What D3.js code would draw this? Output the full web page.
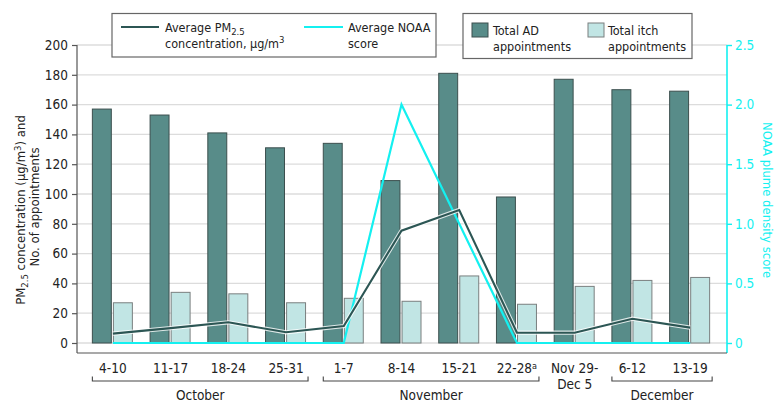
<!DOCTYPE html>
<html>
<head>
<meta charset="utf-8">
<script src="https://cdn.jsdelivr.net/npm/d3@7"></script>
<style>
  html, body { margin: 0; padding: 0; background: #fff; }
  svg { display: block; font-family: "DejaVu Sans Condensed", "DejaVu Sans", sans-serif; }
</style>
</head>
<body>
<svg id="chart" width="780" height="413"></svg>
<script>
// ---- data ----
const categories = ["4-10", "11-17", "18-24", "25-31", "1-7", "8-14", "15-21", "22-28", "Nov 29-|Dec 5", "6-12", "13-19"];
const totalAD = [157, 153, 141, 131, 134, 109, 181, 98, 177, 170, 169];
const totalItch = [27, 34, 33, 27, 30, 28, 45, 26, 38, 42, 44];
const avgPM25 = [6.3, 10, 13.9, 7.2, 11.4, 75.4, 89.3, 6.9, 6.9, 16.3, 10.3];
const avgNOAA = [0, 0, 0, 0, 0, 2.0, 1.0, 0, 0, 0, 0];
const leftTicks = [0, 20, 40, 60, 80, 100, 120, 140, 160, 180, 200];
const rightTicks = [0, 0.5, 1.0, 1.5, 2.0, 2.5];
const months = [
  { name: "October", from: 0, to: 3 },
  { name: "November", from: 4, to: 7 },
  { name: "December", from: 9, to: 10 }
];

// ---- layout ----
const svg = d3.select("#chart");
const axL = 77, axR = 727, yTop = 45, yZero = 343, yAxisBottom = 353;
const COL_AD = "#588c89", COL_AD_STROKE = "#3c4f4e";
const COL_ITCH = "#c1e5e4", COL_ITCH_STROKE = "#7a7f7f";
const COL_PM = "#2c5654", COL_NOAA = "#14f0f0";

const x = d3.scaleBand().domain(categories).range([84, 719]).paddingInner(0).paddingOuter(0);
const xc = d => x(d) + x.bandwidth() / 2;
const x1 = d3.scaleBand().domain(["ad", "itch"]).range([0, 40]).paddingInner(0.1);
const yL = d3.scaleLinear().domain([0, 200]).range([yZero, yTop]);
const yR = d3.scaleLinear().domain([0, 2.5]).range([yZero, yTop]);

// gridlines
svg.append("g").selectAll("line").data(leftTicks).join("line")
  .attr("x1", axL).attr("x2", axR)
  .attr("y1", d => yL(d)).attr("y2", d => yL(d))
  .attr("stroke", "#dcdcdc").attr("stroke-width", 1.3);

// bars
const groups = svg.append("g").selectAll("g").data(categories).join("g")
  .attr("transform", d => `translate(${xc(d) - 20.5},0)`);
groups.append("rect")
  .attr("x", x1("ad")).attr("width", x1.bandwidth())
  .attr("y", (d, i) => yL(totalAD[i])).attr("height", (d, i) => yL(0) - yL(totalAD[i]))
  .attr("fill", COL_AD).attr("stroke", COL_AD_STROKE).attr("stroke-width", 1);
groups.append("rect")
  .attr("x", x1("itch")).attr("width", x1.bandwidth())
  .attr("y", (d, i) => yL(totalItch[i])).attr("height", (d, i) => yL(0) - yL(totalItch[i]))
  .attr("fill", COL_ITCH).attr("stroke", COL_ITCH_STROKE).attr("stroke-width", 1);

// lines
const noaaLine = d3.line().x((d, i) => xc(categories[i])).y(d => yR(d));
svg.append("path").datum(avgNOAA).attr("d", noaaLine)
  .attr("fill", "none").attr("stroke", COL_NOAA).attr("stroke-width", 2.2).attr("stroke-linejoin", "miter");
const pmLine = d3.line().x((d, i) => xc(categories[i])).y(d => yL(d));
svg.append("path").datum(avgPM25).attr("d", pmLine)
  .attr("fill", "none").attr("stroke", "#fff").attr("stroke-width", 4.2).attr("opacity", 0.8);
svg.append("path").datum(avgPM25).attr("d", pmLine)
  .attr("fill", "none").attr("stroke", COL_PM).attr("stroke-width", 2.1);

// left axis
const leftAxis = d3.axisLeft(yL).tickValues(leftTicks).tickSize(5).tickSizeOuter(0).tickPadding(4);
const gL = svg.append("g").attr("transform", `translate(${axL},0)`).call(leftAxis);
gL.select(".domain").remove();
gL.append("line").attr("x1", 0).attr("x2", 0).attr("y1", yTop).attr("y2", yAxisBottom).attr("stroke", "#555").attr("stroke-width", 1.2);
gL.selectAll(".tick line").attr("stroke", "#555").attr("stroke-width", 1.2);
gL.selectAll(".tick text").attr("font-size", 13.5).attr("fill", "#222")
  .attr("font-family", "'DejaVu Sans Condensed', 'DejaVu Sans', sans-serif");

// right axis
const rightAxis = d3.axisRight(yR).tickValues(rightTicks).tickSize(5).tickSizeOuter(0).tickPadding(3)
  .tickFormat(d => d === 0 ? "0" : d3.format(".1f")(d));
const gR = svg.append("g").attr("transform", `translate(${axR},0)`).call(rightAxis);
gR.select(".domain").remove();
gR.append("line").attr("x1", 0).attr("x2", 0).attr("y1", yTop).attr("y2", yAxisBottom).attr("stroke", COL_NOAA).attr("stroke-width", 1.6);
gR.selectAll(".tick line").attr("stroke", COL_NOAA).attr("stroke-width", 1.4);
gR.selectAll(".tick text").attr("font-size", 13.5).attr("fill", COL_NOAA)
  .attr("font-family", "'DejaVu Sans Condensed', 'DejaVu Sans', sans-serif");

// x axis line
svg.append("line").attr("x1", axL).attr("x2", axR).attr("y1", yAxisBottom).attr("y2", yAxisBottom)
  .attr("stroke", "#555").attr("stroke-width", 1.2);

// x labels
const xl = svg.append("g").attr("font-size", 13.5).attr("fill", "#222").attr("text-anchor", "middle");
categories.forEach(c => {
  const parts = c.split("|");
  const t = xl.append("text").attr("x", xc(c)).attr("y", 373);
  if (c === "22-28") {
    t.append("tspan").text("22-28");
    t.append("tspan").text("a").attr("font-size", 9).attr("dy", -4);
  } else {
    parts.forEach((p, j) => {
      t.append("tspan").attr("x", xc(c)).attr("dy", j === 0 ? 0 : 16).text(p);
    });
  }
});

// month brackets
const mg = svg.append("g");
months.forEach(m => {
  const x0 = xc(categories[m.from]) - 20.5, x2 = xc(categories[m.to]) + 22;
  mg.append("path").attr("d", `M${x0},376.5V381H${x2}V376.5`)
    .attr("fill", "none").attr("stroke", "#444").attr("stroke-width", 1.1);
  mg.append("text").attr("x", (x0 + x2) / 2).attr("y", 400).attr("text-anchor", "middle")
    .attr("font-size", 13.5).attr("fill", "#222").text(m.name);
});

// axis titles
const ytl = svg.append("text").attr("transform", `translate(25,210) rotate(-90)`)
  .attr("text-anchor", "middle").attr("font-size", 13).attr("fill", "#222");
ytl.append("tspan").text("PM");
ytl.append("tspan").text("2.5").attr("font-size", 9.5).attr("dy", 3);
ytl.append("tspan").text(" concentration (µg/m").attr("dy", -3);
ytl.append("tspan").text("3").attr("font-size", 9.5).attr("dy", -4);
ytl.append("tspan").text(") and").attr("dy", 4);
svg.append("text").attr("transform", `translate(39,207) rotate(-90)`)
  .attr("text-anchor", "middle").attr("font-size", 13).attr("fill", "#222").text("No. of appointments");
svg.append("text").attr("transform", `translate(763,200) rotate(90)`)
  .attr("text-anchor", "middle").attr("font-size", 13).attr("fill", COL_NOAA).text("NOAA plume density score");

// legends
const lg1 = svg.append("g");
lg1.append("rect").attr("x", 112).attr("y", 13.5).attr("width", 324).attr("height", 43.5)
  .attr("fill", "#fff").attr("stroke", "#666").attr("stroke-width", 1.2);
lg1.append("line").attr("x1", 121).attr("x2", 159).attr("y1", 27).attr("y2", 27).attr("stroke", COL_PM).attr("stroke-width", 2.2);
const t1 = lg1.append("text").attr("x", 165).attr("y", 32).attr("font-size", 12.5).attr("fill", "#222");
t1.append("tspan").text("Average PM");
t1.append("tspan").text("2.5").attr("font-size", 9.5).attr("dy", 3);
lg1.append("text").attr("x", 165).attr("y", 48).attr("font-size", 12.5).attr("fill", "#222")
  .call(t => { t.append("tspan").text("concentration, µg/m"); t.append("tspan").text("3").attr("font-size", 9.5).attr("dy", -5); });
lg1.append("line").attr("x1", 304).attr("x2", 343).attr("y1", 27).attr("y2", 27).attr("stroke", COL_NOAA).attr("stroke-width", 2.2);
lg1.append("text").attr("x", 348).attr("y", 32).attr("font-size", 12.5).attr("fill", "#222").text("Average NOAA");
lg1.append("text").attr("x", 348).attr("y", 48).attr("font-size", 12.5).attr("fill", "#222").text("score");

const lg2 = svg.append("g");
lg2.append("rect").attr("x", 463).attr("y", 13.5).attr("width", 229).attr("height", 45)
  .attr("fill", "#fff").attr("stroke", "#666").attr("stroke-width", 1.2);
lg2.append("rect").attr("x", 472).attr("y", 23).attr("width", 16).attr("height", 14)
  .attr("fill", COL_AD).attr("stroke", COL_AD_STROKE);
lg2.append("text").attr("x", 493).attr("y", 35).attr("font-size", 12.5).attr("fill", "#222").text("Total AD");
lg2.append("text").attr("x", 493).attr("y", 51).attr("font-size", 12.5).attr("fill", "#222").text("appointments");
lg2.append("rect").attr("x", 588).attr("y", 23).attr("width", 16).attr("height", 14)
  .attr("fill", COL_ITCH).attr("stroke", COL_ITCH_STROKE);
lg2.append("text").attr("x", 608).attr("y", 35).attr("font-size", 12.5).attr("fill", "#222").text("Total itch");
lg2.append("text").attr("x", 608).attr("y", 51).attr("font-size", 12.5).attr("fill", "#222").text("appointments");
</script>
</body>
</html>
